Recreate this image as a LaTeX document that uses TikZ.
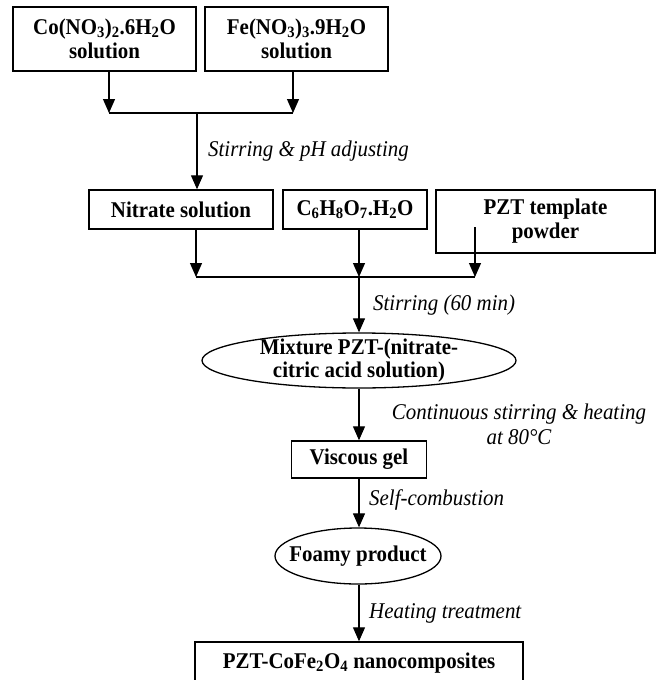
\documentclass[tikz,border=0pt]{standalone}
\usepackage{fontspec}
\setmainfont{Liberation Serif}[FakeStretch=0.93]
\usetikzlibrary{arrows.meta,shapes.geometric}
\begin{document}
\begin{tikzpicture}[x=1pt,y=-1pt,
  box/.style={draw,line width=1.4pt,inner sep=0pt,align=center,font=\fontsize{22.5}{24}\selectfont\bfseries},
  oval/.style={draw,ellipse,line width=1.3pt,inner sep=0pt},
  txt/.style={inner sep=0pt,align=center,font=\fontsize{22.5}{22.5}\selectfont\bfseries},
  lab/.style={font=\fontsize{22.5}{25}\selectfont\itshape,inner sep=0pt,align=center},
  arr/.style={line width=1.2pt,-{Triangle[width=12pt,length=14pt]}},
  ln/.style={line width=1.2pt}]
\useasboundingbox (0,0) rectangle (660,680);
% top row
\node[box,minimum width=183pt,minimum height=64pt] (co) at (104.5,39) {Co(NO\textsubscript{3})\textsubscript{2}.6H\textsubscript{2}O\\solution};
\node[box,minimum width=183pt,minimum height=64pt] (fe) at (296.5,39) {Fe(NO\textsubscript{3})\textsubscript{3}.9H\textsubscript{2}O\\solution};
% second row
\node[box,minimum width=184pt,minimum height=39pt] (nit) at (181,209.5) {Nitrate solution};
\node[box,minimum width=144pt,minimum height=39pt] (c6) at (355,209.5) {C\textsubscript{6}H\textsubscript{8}O\textsubscript{7}.H\textsubscript{2}O};
\node[box,minimum width=219pt,minimum height=63pt] (pzt) at (545.5,221.5) {PZT template\\powder};
% ellipses
\node[oval,minimum width=314pt,minimum height=55pt] (mix) at (359,360.5) {};
\node[txt] (mixt) at (mix.center) {Mixture PZT-(nitrate-\\citric acid solution)};
\node[box,minimum width=135pt,minimum height=37pt] (vis) at (359,459.5) {Viscous gel};
\node[oval,minimum width=166pt,minimum height=56pt] (foam) at (358,556) {};
\node[txt] (foamt) at (foam.center) {Foamy product};
\node[box,minimum width=328pt,minimum height=42pt] (fin) at (359,663) {PZT-CoFe\textsubscript{2}O\textsubscript{4} nanocomposites};
% junctions
\coordinate (j1) at (109,113);
\coordinate (j2) at (293,113);
\coordinate (jm) at (197,113);
\coordinate (k1) at (196,277);
\coordinate (k2) at (359,277);
\coordinate (k3) at (475,277);
\coordinate (ps) at (475,227);
% connectors
\draw[arr] (co.south -| j1) -- (j1);
\draw[arr] (fe.south -| j2) -- (j2);
\draw[ln] (j1) -- (j2);
\draw[arr] (jm) -- (jm |- nit.north);
\draw[arr] (nit.south -| k1) -- (k1);
\draw[arr] (c6.south -| k2) -- (k2);
\draw[arr] (ps) -- (k3);
\draw[ln] (k1) -- (k3);
\draw[arr] (k2) -- (mix.north);
\draw[arr] (mix.south) -- (vis.north);
\draw[arr] (vis.south) -- (vis.south |- foam.north);
\draw[arr] (vis.south |- foam.south) -- (fin.north);
% labels
\node[lab,anchor=west] (l1) at (208,151) {Stirring \& pH adjusting};
\node[lab,anchor=west] (l2) at (373,305) {Stirring (60 min)};
\node[lab] (l3) at (519,424.5) {Continuous stirring \& heating\\at 80°C};
\node[lab,anchor=west] (l4) at (369,500) {Self-combustion};
\node[lab,anchor=west] (l5) at (369,613) {Heating treatment};
\end{tikzpicture}
\end{document}
